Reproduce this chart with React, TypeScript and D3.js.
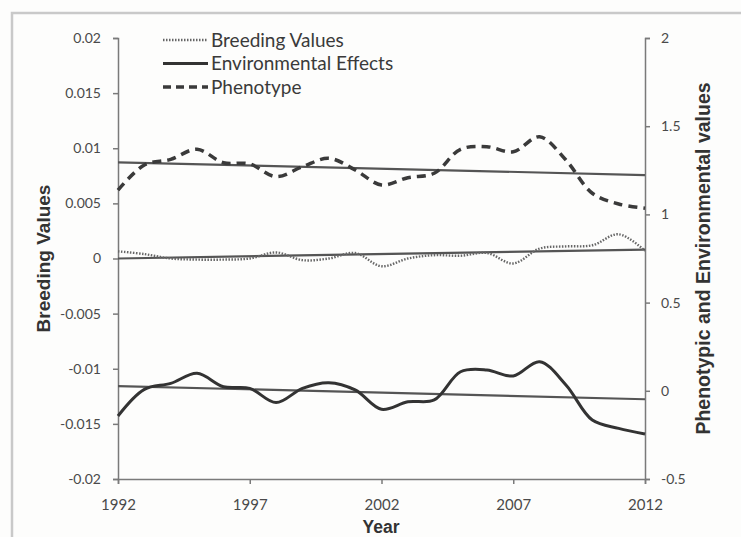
import React, { useEffect, useRef } from 'react'
import * as d3 from 'd3'

// data
const years = [1992, 1993, 1994, 1995, 1996, 1997, 1998, 1999, 2000, 2001, 2002, 2003, 2004, 2005, 2006, 2007, 2008, 2009, 2010, 2011, 2012]
const breedingValues = [0.00065, 0.0004, 0.0, -0.0001, -0.0001, 0.0, 0.00055, -0.00015, 0.0, 0.0005, -0.0007, 0.0, 0.0003, 0.00025, 0.0005, -0.00045, 0.0009, 0.0011, 0.0012, 0.0022, 0.0007]
const environmentalEffects = [-0.143, 0.008, 0.042, 0.099, 0.023, 0.014, -0.067, 0.014, 0.046, 0.005, -0.105, -0.062, -0.052, 0.108, 0.118, 0.084, 0.165, 0.033, -0.166, -0.213, -0.245]
const phenotype = [1.138, 1.28, 1.312, 1.369, 1.293, 1.286, 1.214, 1.27, 1.318, 1.252, 1.167, 1.208, 1.233, 1.369, 1.384, 1.355, 1.44, 1.308, 1.12, 1.059, 1.035]

const trendYears = [1992, 2012]
const breedingTrend = [0.0, 0.0008]
const environmentalTrend = [0.027, -0.048]
const phenotypeTrend = [1.295, 1.223]

const leftTicks = [-0.02, -0.015, -0.01, -0.005, 0, 0.005, 0.01, 0.015, 0.02]
const rightTicks = [-0.5, 0, 0.5, 1, 1.5, 2]
const yearTicks = [1992, 1997, 2002, 2007, 2012]
const legendLabels = ['Breeding Values', 'Environmental Effects', 'Phenotype']

function App() {
  const ref = useRef<SVGSVGElement>(null)

  useEffect(() => {
    const w = 741
    const h = 537
    const left = 118, right = 645, top = 38, bottom = 479
    const svg = d3.select(ref.current)
    svg.selectAll('*').remove()
    svg.attr('width', w).attr('height', h)

    svg.append('rect').attr('width', w).attr('height', h).attr('fill', '#fdfdfc')
    // outer frame
    svg.append('rect')
      .attr('x', 12).attr('y', 13).attr('width', 760).attr('height', 560)
      .attr('fill', 'none').attr('stroke', '#c9c9c9').attr('stroke-width', 2.5)

    const x = d3.scaleLinear().domain([1992, 2012]).range([left, right])
    const yL = d3.scaleLinear().domain([-0.02, 0.02]).range([bottom, top])
    const yR = d3.scaleLinear().domain([-0.5, 2]).range([bottom, top])

    const font = "Lato, 'Open Sans', sans-serif"
    const titleFont = "'Liberation Sans', Arial, sans-serif"

    // AXES
    const gl = svg.append('g').attr('transform', `translate(${left},0)`)
      .call(d3.axisLeft(yL).tickValues(leftTicks).tickSize(5).tickPadding(12).tickFormat(d => String(d)))
    const gr = svg.append('g').attr('transform', `translate(${right},0)`)
      .call(d3.axisRight(yR).tickValues(rightTicks).tickSize(5).tickPadding(11).tickFormat(d => String(d)))
    const gx = svg.append('g').attr('transform', `translate(0,${bottom})`)
      .call(d3.axisBottom(x).tickValues(yearTicks).tickSize(5).tickPadding(15).tickFormat(d => String(d)))
    ;[gl, gr, gx].forEach(g => {
      g.select('.domain').attr('stroke', '#7a7a7a').attr('stroke-width', 1.5)
      g.selectAll('.tick line').attr('stroke', '#7a7a7a').attr('stroke-width', 1.5)
      g.selectAll('.tick text').attr('fill', '#4a4a4a').attr('font-size', 14).attr('font-family', font)
    })
    gx.selectAll('.tick text').attr('font-size', 15)

    // TREND LINES
    const trend = (vals: number[], y: d3.ScaleLinear<number, number>) =>
      d3.line<number>().x((_, i) => x(trendYears[i])).y(d => y(d))(vals)
    ;[[breedingTrend, yL], [environmentalTrend, yR], [phenotypeTrend, yR]].forEach(([vals, y]: any) => {
      svg.append('path').attr('d', trend(vals, y)).attr('fill', 'none')
        .attr('stroke', '#555').attr('stroke-width', 2.2)
    })

    // SERIES
    const smooth = (vals: number[], y: d3.ScaleLinear<number, number>) =>
      d3.line<number>().x((_, i) => x(years[i])).y(d => y(d)).curve(d3.curveCatmullRom.alpha(0.5))(vals)

    svg.append('path').attr('d', smooth(breedingValues, yL)).attr('fill', 'none')
      .attr('stroke', '#666').attr('stroke-width', 2.4).attr('stroke-dasharray', '1.5,1.5')
    svg.append('path').attr('d', smooth(environmentalEffects, yR)).attr('fill', 'none')
      .attr('stroke', '#333').attr('stroke-width', 3)
    svg.append('path').attr('d', smooth(phenotype, yR)).attr('fill', 'none')
      .attr('stroke', '#3a3a3a').attr('stroke-width', 3.5).attr('stroke-dasharray', '9,6')

    // LEGEND
    const legendStyles = [
      { stroke: '#666', width: 2.4, dash: '1.5,1.5' },
      { stroke: '#333', width: 3, dash: null },
      { stroke: '#3a3a3a', width: 3.5, dash: '8,5' },
    ]
    legendLabels.forEach((label, i) => {
      const ly = 40 + i * 23.5
      const s = legendStyles[i]
      const ln = svg.append('line').attr('x1', 163).attr('x2', 208).attr('y1', ly).attr('y2', ly)
        .attr('stroke', s.stroke).attr('stroke-width', s.width)
      if (s.dash) ln.attr('stroke-dasharray', s.dash)
      svg.append('text').text(label).attr('x', 211).attr('y', ly).attr('dy', '0.35em')
        .attr('font-size', 19).attr('font-family', font).attr('fill', '#3a3a3a')
    })

    // AXIS TITLES
    svg.append('text').text('Year').attr('x', 381).attr('y', 527).attr('dy', '0.35em')
      .attr('text-anchor', 'middle').attr('font-weight', 'bold').attr('font-size', 17.5)
      .attr('font-family', titleFont).attr('fill', '#333')
    svg.append('text').text('Breeding Values')
      .attr('transform', `translate(43,${(top + bottom) / 2}) rotate(-90)`).attr('dy', '0.35em')
      .attr('text-anchor', 'middle').attr('font-weight', 'bold').attr('font-size', 19)
      .attr('font-family', titleFont).attr('fill', '#333')
    svg.append('text').text('Phenotypic and Environmental values')
      .attr('transform', `translate(703,${(top + bottom) / 2}) rotate(-90)`).attr('dy', '0.35em')
      .attr('text-anchor', 'middle').attr('font-weight', 'bold').attr('font-size', 19.5)
      .attr('font-family', titleFont).attr('fill', '#333')
  }, [])

  return <svg ref={ref} style={{ position: 'absolute', left: 0, top: 0, display: 'block' }}></svg>
}

export default App
